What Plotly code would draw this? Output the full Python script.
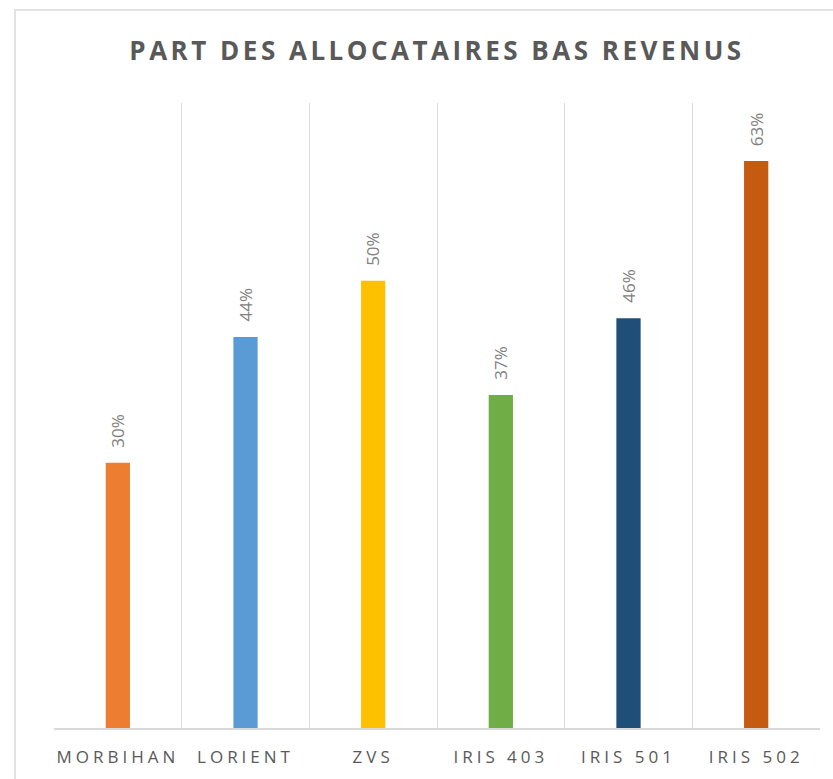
import plotly.graph_objects as go

categories = ["MORBIHAN", "LORIENT", "ZVS", "IRIS 403", "IRIS 501", "IRIS 502"]
values = [0.297, 0.438, 0.501, 0.373, 0.459, 0.635]
labels = ["30%", "44%", "50%", "37%", "46%", "63%"]
colors = ["#ED7D31", "#5B9BD5", "#FFC000", "#70AD47", "#1F4E79", "#C55A11"]

W, H = 833, 779
L, R, T, B = 54, 13, 103, 51

fig = go.Figure()
fig.add_trace(go.Bar(
    x=categories, y=values,
    marker=dict(color=colors, line=dict(width=0)),
    width=0.19,
    hoverinfo="skip",
))

for c, v, lab in zip(categories, values, labels):
    fig.add_annotation(
        x=c, y=v, xref="x", yref="y",
        text=lab, showarrow=False, textangle=-90,
        xanchor="center", yanchor="bottom", yshift=13,
        font=dict(family="Open Sans", size=17, color="#808080"),
    )

pw = W - L - R
ph = H - T - B
fig.add_shape(
    type="rect", xref="paper", yref="paper",
    x0=(15 - L) / pw, x1=(845 - L) / pw,
    y0=-(800 - (H - B)) / ph,
    y1=(H - B - 10) / ph,
    line=dict(color="#D9D9D9", width=1.5), fillcolor="rgba(0,0,0,0)", layer="below",
)

fig.update_layout(
    width=W, height=H,
    margin=dict(l=L, r=R, t=T, b=B, pad=0),
    paper_bgcolor="white", plot_bgcolor="white",
    showlegend=False,
    title=dict(
        text="<b>PART DES ALLOCATAIRES BAS REVENUS</b>",
        x=(L + pw / 2) / W, xanchor="center",
        y=1 - 51 / H, yanchor="middle", yref="container",
        font=dict(family="Open Sans", size=26, color="#595959"),
    ),
    xaxis=dict(
        type="category", tickson="boundaries", showgrid=True,
        gridcolor="#D9D9D9", gridwidth=1,
        showline=True, linecolor="#D9D9D9", linewidth=1.5,
        ticks="", ticklen=0, ticklabelstandoff=13,
        tickfont=dict(family="Open Sans", size=17, color="#595959"),
        range=[-0.5, 5.5], fixedrange=True,
    ),
    yaxis=dict(
        range=[0, 0.70], visible=False, showgrid=False, zeroline=False,
        fixedrange=True,
    ),
)

post = """
document.body.style.margin='0';
var gd = document.getElementById('{plot_id}');
function ls(){
  gd.querySelectorAll('.xtick text').forEach(function(t){t.style.letterSpacing='4px';});
  gd.querySelectorAll('.gtitle').forEach(function(t){t.style.letterSpacing='3.5px';});
}
ls();
gd.on('plotly_afterplot', ls);
"""
fig.write_html("out.html", post_script=post, config={"displayModeBar": False})
